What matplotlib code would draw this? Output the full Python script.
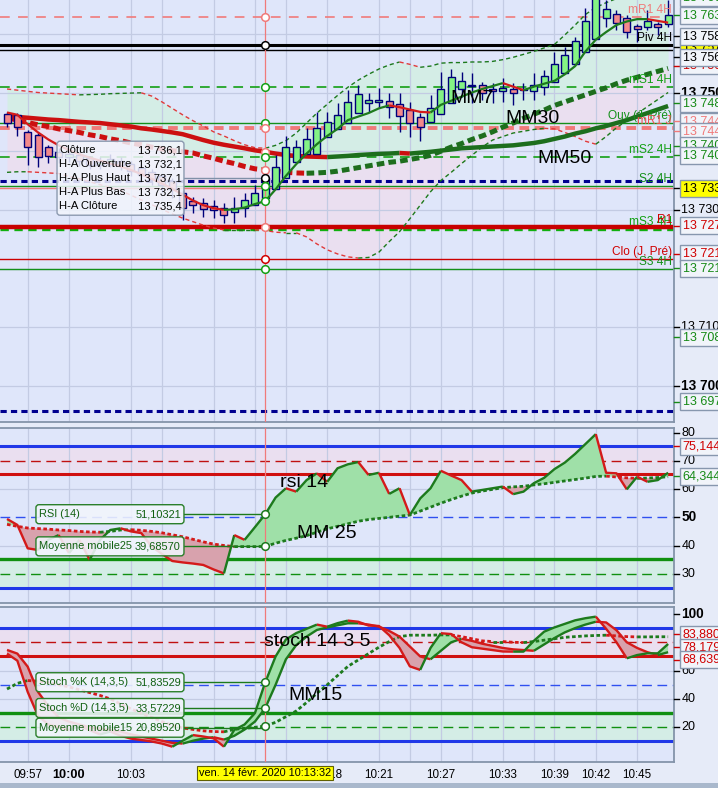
import numpy as np
import matplotlib.pyplot as plt
from matplotlib.patches import FancyBboxPatch, Rectangle

plt.rcParams['font.family'] = ['Liberation Sans', 'DejaVu Sans']
plt.rcParams['lines.scale_dashes'] = False

#%% données (une valeur par bougie)

ha_open = [13746.34, 13746.17, 13743.27, 13742.76, 13740.72, 13739.80, 13739.00, 13739.30, 13738.80, 13737.60,
           13737.90, 13738.30, 13737.90, 13737.20, 13736.50, 13735.80, 13735.00, 13732.88, 13731.52, 13731.18,
           13730.66, 13730.32, 13729.64, 13730.32, 13730.83, 13732.10, 13733.56, 13735.43, 13738.16, 13739.52,
           13739.52, 13742.42, 13743.78, 13744.80, 13746.51, 13748.21, 13748.38, 13748.55, 13748.04, 13747.02,
           13745.83, 13744.97, 13746.34, 13748.21, 13750.60, 13751.11, 13751.28, 13750.60, 13750.26, 13750.60,
           13750.43, 13750.26, 13750.94, 13751.79, 13753.32, 13754.86, 13756.90, 13759.11, 13762.69, 13763.37,
           13762.69, 13761.33, 13761.16, 13761.67, 13761.67]
ha_close = [13744.80, 13744.12, 13740.72, 13739.01, 13739.18, 13739.00, 13739.60, 13738.40, 13737.60, 13738.20,
            13738.70, 13737.60, 13736.60, 13735.90, 13735.20, 13734.30, 13733.50, 13730.32, 13730.83, 13730.15,
            13729.98, 13729.13, 13730.32, 13731.69, 13732.88, 13735.40, 13737.31, 13740.72, 13740.72, 13742.08,
            13743.95, 13744.97, 13746.17, 13748.38, 13749.74, 13748.72, 13748.72, 13747.53, 13746.00, 13744.80,
            13744.12, 13747.36, 13750.60, 13752.64, 13751.97, 13751.28, 13749.91, 13750.26, 13750.77, 13749.91,
            13750.60, 13751.28, 13752.81, 13754.86, 13756.39, 13758.77, 13762.18, 13766.20, 13764.23, 13761.84,
            13760.31, 13760.82, 13762.18, 13761.16, 13763.20]
ha_high = [13746.68, 13746.51, 13743.60, 13743.10, 13741.06, 13740.50, 13740.30, 13739.80, 13739.20, 13739.00,
           13739.50, 13739.00, 13738.40, 13737.80, 13737.00, 13736.20, 13735.40, 13733.39, 13732.20, 13732.03,
           13731.69, 13731.18, 13732.20, 13732.88, 13734.24, 13737.10, 13739.35, 13742.59, 13741.91, 13743.95,
           13746.68, 13746.68, 13748.21, 13750.43, 13751.28, 13749.91, 13750.77, 13749.91, 13749.91, 13748.38,
           13746.51, 13749.57, 13753.49, 13754.00, 13753.49, 13753.32, 13751.79, 13751.62, 13752.47, 13751.62,
           13751.62, 13753.32, 13753.83, 13756.90, 13757.75, 13759.46, 13764.40, 13767.50, 13765.80, 13764.06,
           13763.20, 13761.67, 13764.06, 13762.00, 13765.76]
ha_low = [13744.12, 13742.59, 13737.65, 13737.31, 13737.99, 13738.00, 13738.20, 13737.50, 13736.90, 13737.00,
          13737.30, 13736.80, 13735.80, 13735.00, 13734.30, 13733.00, 13732.00, 13728.28, 13729.47, 13728.79,
          13728.62, 13727.77, 13727.77, 13728.79, 13730.83, 13732.10, 13733.56, 13735.43, 13738.16, 13739.52,
          13739.52, 13742.42, 13743.78, 13744.80, 13746.51, 13746.68, 13747.36, 13745.66, 13743.27, 13742.42,
          13741.74, 13744.97, 13746.34, 13748.21, 13749.23, 13748.21, 13748.72, 13748.21, 13748.38, 13747.87,
          13748.72, 13748.72, 13749.57, 13751.79, 13753.32, 13754.86, 13756.90, 13759.11, 13761.16, 13760.65,
          13759.28, 13758.60, 13760.65, 13759.80, 13761.16]

mm7 = [13746.6, 13746.2, 13744.6, 13743.2, 13742.0, 13741.0, 13740.2, 13739.5, 13738.9, 13738.4,
       13737.9, 13737.4, 13736.8, 13736.1, 13735.3, 13734.5, 13733.6, 13732.6, 13731.6, 13730.8,
       13730.3, 13730.0, 13730.1, 13730.4, 13731.0, 13731.5, 13733.5, 13735.8, 13737.8, 13739.6,
       13741.2, 13742.6, 13743.8, 13745.3, 13745.9, 13746.5, 13747.3, 13747.8, 13747.5, 13747.1,
       13746.7, 13746.6, 13747.9, 13748.6, 13749.3, 13750.0, 13750.6, 13751.1, 13751.6, 13751.0,
       13750.4, 13751.0, 13751.5, 13752.0, 13753.1, 13754.5, 13757.0, 13759.0, 13760.3, 13761.5,
       13762.1, 13762.5, 13762.5, 13762.2, 13761.9]
mm30 = [13745.7, 13745.3, 13744.9, 13744.5, 13744.2, 13743.8, 13743.5, 13743.2, 13742.8, 13742.5,
        13742.1, 13741.8, 13741.4, 13741.1, 13740.7, 13740.4, 13740.1, 13739.9, 13739.7, 13739.2,
        13738.8, 13738.3, 13737.9, 13737.4, 13737.0, 13736.8, 13736.6, 13736.4, 13736.3, 13736.25,
        13736.3, 13736.4, 13736.6, 13736.9, 13737.2, 13737.5, 13737.8, 13738.1, 13738.3, 13738.6,
        13738.9, 13739.3, 13740.0, 13740.7, 13741.3, 13742.0, 13742.6, 13743.3, 13744.1, 13744.8,
        13745.6, 13746.3, 13747.0, 13747.8, 13748.4, 13749.0, 13749.6, 13750.2, 13750.8, 13751.5,
        13752.1, 13752.6, 13753.1, 13753.6, 13754.1]
mm50 = [13746.0, 13745.85, 13745.7, 13745.55, 13745.4, 13745.3, 13745.15, 13745.0, 13744.9, 13744.8,
        13744.6, 13744.4, 13744.2, 13743.9, 13743.7, 13743.45, 13743.2, 13742.9, 13742.4, 13741.9,
        13741.45, 13741.1, 13740.8, 13740.5, 13740.15, 13739.9, 13739.6, 13739.35, 13739.2, 13739.1,
        13739.05, 13739.0, 13739.1, 13739.2, 13739.35, 13739.45, 13739.55, 13739.6, 13739.7, 13739.6,
        13739.75, 13739.9, 13740.1, 13740.3, 13740.5, 13740.6, 13740.7, 13740.8, 13740.9, 13741.0,
        13741.2, 13741.4, 13741.7, 13742.1, 13742.5, 13743.0, 13743.4, 13743.9, 13744.3, 13744.8,
        13745.3, 13745.9, 13746.5, 13747.1, 13747.7]
bb_haut = [13750.6, 13750.4, 13750.2, 13750.0, 13749.9, 13749.8, 13749.7, 13749.6, 13749.65, 13749.7,
           13749.8, 13749.85, 13749.9, 13749.95, 13749.4, 13748.4, 13747.3, 13746.2, 13745.2, 13744.3,
           13743.3, 13742.6, 13741.8, 13741.1, 13740.6, 13740.5, 13741.0, 13741.8, 13743.1, 13744.8,
           13746.5, 13748.0, 13749.5, 13750.9, 13752.1, 13753.1, 13754.0, 13754.7, 13755.2, 13754.8,
           13754.3, 13754.5, 13755.0, 13755.1, 13755.1, 13755.2, 13755.2, 13755.3, 13755.6, 13756.0,
           13756.5, 13757.0, 13757.6, 13758.2, 13759.8, 13761.5, 13763.3, 13764.5, 13765.3, 13766.0,
           13766.6, 13767.0, 13767.4, 13767.8, 13768.2]
bb_bas = [13736.4, 13736.5, 13736.5, 13736.4, 13736.3, 13736.2, 13735.7, 13735.3, 13734.8, 13734.3,
          13733.8, 13733.3, 13732.5, 13731.7, 13730.9, 13730.1, 13729.3, 13728.6, 13728.0, 13727.4,
          13726.9, 13726.6, 13726.6, 13726.6, 13726.6, 13726.5, 13726.2, 13726.1, 13726.1, 13725.4,
          13724.2, 13723.2, 13722.5, 13722.0, 13721.8, 13721.9, 13722.8, 13724.6, 13726.3, 13728.5,
          13730.8, 13733.1, 13735.0, 13736.4, 13737.9, 13739.3, 13740.7, 13741.9, 13742.5, 13743.1,
          13743.4, 13743.7, 13743.9, 13743.8, 13743.2, 13742.5, 13741.7, 13741.2, 13742.5, 13744.0,
          13745.2, 13746.4, 13747.6, 13748.8, 13750.0]

rsi14 = [49.4, 47.3, 39.0, 38.4, 42.0, 43.7, 37.3, 42.0, 34.9, 42.0,
         45.5, 46.1, 45.0, 44.4, 39.6, 37.0, 34.5, 34.0, 33.6, 33.1,
         31.5, 30.1, 43.7, 42.0, 46.5, 51.1, 57.0, 60.3, 59.1, 63.2,
         65.6, 62.6, 67.4, 68.8, 69.6, 65.0, 65.8, 58.3, 60.3, 50.8,
         56.7, 60.3, 66.5, 64.8, 63.2, 59.1, 59.7, 60.3, 60.9, 58.2,
         59.1, 62.1, 64.0, 67.1, 69.4, 72.5, 76.0, 79.5, 65.8, 65.6,
         59.9, 64.4, 62.6, 63.2, 65.8]
rsi_mm25 = [47.5, 46.8, 46.2, 46.0, 45.8, 45.5, 45.3, 45.0, 44.8, 44.7,
            45.0, 45.5, 45.6, 45.4, 45.0, 44.5, 43.8, 43.1, 42.2, 41.3,
            40.5, 40.0, 39.6, 39.6, 39.6, 39.7, 40.8, 41.8, 42.6, 43.5,
            44.7, 45.9, 46.8, 47.7, 48.6, 49.2, 49.6, 50.0, 50.4, 50.8,
            52.2, 53.6, 55.0, 56.3, 57.5, 58.6, 59.3, 59.9, 60.5, 60.8,
            61.0, 61.5, 61.9, 62.4, 62.9, 63.4, 63.9, 64.5, 64.6, 64.3,
            64.0, 63.8, 63.9, 64.1, 64.4]

stoch_k = [72.0, 67.0, 45.0, 28.0, 22.0, 20.0, 18.0, 21.0, 18.0, 15.0,
           17.0, 14.0, 12.0, 11.0, 10.0, 8.5, 6.3, 10.5, 14.5, 13.5,
           12.2, 6.3, 18.1, 22.0, 30.0, 51.8, 70.0, 82.0, 86.5, 89.5,
           92.5, 91.0, 93.5, 95.3, 94.5, 91.8, 91.5, 85.0, 76.0, 63.0,
           60.5, 76.0, 86.4, 85.8, 80.0, 76.5, 75.5, 74.5, 73.5, 73.4,
           73.4, 81.0, 87.5, 90.5, 93.0, 95.5, 97.0, 98.1, 89.5, 80.0,
           68.7, 71.0, 72.2, 72.2, 78.8]
stoch_d = [74.6, 72.0, 62.8, 45.0, 35.0, 27.0, 24.0, 22.0, 20.0, 19.0,
           18.0, 17.0, 15.0, 13.5, 12.0, 10.5, 9.0, 8.5, 10.5, 12.0,
           13.0, 11.3, 14.0, 18.4, 24.0, 33.6, 50.0, 68.0, 78.0, 84.0,
           88.7, 90.5, 92.0, 93.4, 93.4, 92.5, 91.1, 88.0, 84.0, 77.0,
           70.0, 68.0, 74.0, 80.0, 82.5, 81.0, 79.0, 77.5, 76.0, 75.0,
           74.5, 74.0, 78.5, 83.0, 87.0, 90.0, 92.5, 94.5, 94.0, 88.5,
           80.0, 76.0, 73.0, 71.0, 73.0]
stoch_mm15 = [47.0, 51.0, 53.0, 52.5, 51.5, 50.0, 48.5, 46.5, 44.5, 42.5,
              40.0, 36.5, 33.0, 30.0, 27.0, 24.0, 21.5, 19.5, 18.5, 17.5,
              17.0, 16.8, 18.5, 19.3, 20.0, 20.9, 23.5, 27.5, 31.5, 37.5,
              44.0, 50.0, 56.5, 63.0, 67.5, 72.0, 76.5, 80.5, 84.0, 85.0,
              85.0, 85.0, 85.2, 85.2, 84.0, 82.5, 81.0, 80.5, 80.5, 80.0,
              79.8, 80.5, 81.5, 82.5, 83.5, 84.0, 84.5, 84.8, 85.0, 84.5,
              84.0, 83.8, 83.8, 83.9, 83.9]

heures = ['09:57', '10:00', '10:03', '10:18', '10:21', '10:27', '10:33', '10:39', '10:42', '10:45']
heures_idx = [2, 6, 12, 31, 36, 42, 48, 53, 57, 61]
grille_idx = [2, 6, 12, 15, 20, 24, 27, 31, 36, 39, 42, 45, 48, 51, 53, 57, 61]
curseur = 25
date_curseur = 'ven. 14 févr. 2020 10:13:32'

# niveaux (pivots) du graphique des prix
niv_prix = [13762.9, 13758.1, 13757.2, 13750.9, 13744.8, 13743.95, 13739.0, 13734.9,
            13734.1, 13733.7, 13726.75, 13727.1, 13721.6, 13719.9, 13695.7]
niv_nom = ['mR1 4H', 'Piv 4H', '', 'mS1 4H', 'Ouv (J, Pré)', 'mR1 J', 'mS2 4H', '',
           'S2 4H', '', 'mS3 4H', 'R1', 'Clo (J, Pré)', 'S3 4H', '']

# étiquettes de l'échelle de droite
prix_lbl = ['13 766,5', '13 763,4', '13 750,9', '13 757,2', '13 758,4', '13 756,3', '13 748,2', '13 744,8',
            '13 744,0', '13 740,9', '13 740,2', '13 733,9', '13 727,1', '13 721,6', '13 721,1', '13 708,3', '13 697,2']
prix_lbl_y = [13766.2, 13763.2, 13754.6, 13757.7, 13759.6, 13756.0, 13748.2, 13745.1,
              13743.4, 13740.9, 13739.35, 13733.7, 13727.3, 13722.5, 13720.1, 13708.3, 13697.3]
axe_prix = [13750, 13730, 13710, 13700]
axe_prix_txt = ['13 750', '13 730', '13 710', '13 700']

tt_lbl = ['Clôture', 'H-A Ouverture', 'H-A Plus Haut', 'H-A Plus Bas', 'H-A Clôture']
tt_val = ['13 736,1', '13 732,1', '13 737,1', '13 732,1', '13 735,4']

#%% styles
W, H = 718, 788
BG = '#dfe6fa'
GRID = '#c3cbe3'
TEAL = '#d4ede6'
PINK = '#eadff0'
UP, DN = '#1c7a1c', '#d41a1a'
NAVY = '#00007a'
SALMON = '#f07a7a'
GR = '#14a014'

niv_style = [(SALMON, 1.2, (7, 6)), ('black', 2.2, None), ('black', 1.0, None), (GR, 1.2, (7, 5)),
             ('#14901a', 1.0, None), (SALMON, 2.8, (7, 4)), (GR, 1.2, (7, 5)), ('#000090', 2.2, (4.5, 3)),
             ('#14901a', 1.0, None), (SALMON, 1.0, None), ('#10b010', 2.4, (6, 4)), ('#c80000', 3.2, None),
             ('#cc0000', 1.0, None), ('#14901a', 1.0, None), ('#000090', 2.2, (4.5, 3))]
niv_txtc = [SALMON, 'black', None, GR, '#14901a', '#f05050', GR, None,
            '#14901a', None, '#10a010', '#d00000', '#d00000', '#14901a', None]
prix_lbl_c = ['#168a16', '#168a16', '#d00000', 'black', 'black', 'black', '#168a16', SALMON,
              SALMON, '#168a16', '#168a16', 'black', '#d00000', '#d00000', '#168a16', '#168a16', '#168a16']
prix_lbl_fc = ['#f1f4fa'] * 3 + ['#ffff00'] + ['#f1f4fa'] * 7 + ['#ffff00'] + ['#f1f4fa'] * 5

idx = np.arange(len(ha_open))


def trend(ax, x, y, up=UP, dn=DN, **kw):
    # ligne verte quand elle monte, rouge quand elle descend
    x = np.asarray(x, float)
    y = np.asarray(y, float)
    r = np.diff(y) >= 0
    s = 0
    for k in range(1, len(r) + 1):
        if k == len(r) or r[k] != r[s]:
            ax.plot(x[s:k + 1], y[s:k + 1], color=up if r[s] else dn, solid_capstyle='butt', **kw)
            s = k


def dpx(ax):
    x0, x1 = ax.get_xlim()
    y0, y1 = ax.get_ylim()
    pos = ax.get_position()
    return (x1 - x0) / (pos.width * W), (y1 - y0) / (pos.height * H)


def boite(ax, x0, x1, yc, hpx, ec, fc=(0.95, 0.96, 0.99, 0.88), z=9):
    dx, dy = dpx(ax)
    h = hpx * dy
    p = FancyBboxPatch((x0, yc - h / 2), x1 - x0, h,
                       boxstyle='round,pad=0,rounding_size=%f' % (3 * dx),
                       mutation_aspect=dy / dx, fc=fc, ec=ec, lw=1, zorder=z)
    ax.add_patch(p)


def tip(ax, yc, lbl, val, x0=2.8, x1=17.13):
    dx, dy = dpx(ax)
    ax.plot([x1, curseur], [yc, yc], color='#1c7a1c', lw=1, zorder=8)
    boite(ax, x0, x1, yc, 19, '#2a7f2a')
    ax.text(x0 + 3 * dx, yc, lbl, fontsize=7.9, color='#106010', va='center', zorder=10)
    ax.text(x1 - 3 * dx, yc, val, fontsize=7.9, color='#106010', va='center', ha='right', zorder=10)


def etiquette(ax, v, txt, color, fc='#f1f4fa', z=10, bold=False, box=True):
    tr = ax.get_yaxis_transform()
    ax.plot([1.0, 1.007], [v, v], transform=tr, color=color, lw=1, clip_on=False, zorder=z)
    kw = dict(boxstyle='square,pad=0.2', fc=fc, ec='#8797ae', lw=1) if box else None
    ax.text(1.013 if box else 1.011, v, txt, transform=tr, ha='left', va='center',
            fontsize=9.8 if bold else 9, fontweight='bold' if bold else 'normal',
            color=color, clip_on=False, zorder=z, bbox=kw)


def marque(ax, y, color):
    ax.plot(curseur, y, 'o', ms=5.5, mfc='white', mec=color, mew=1.1, zorder=12)


fig = plt.figure(figsize=(W / 100, H / 100), dpi=100, facecolor='#e6ebf8')


def panneau(top, bottom):
    a = fig.add_axes([0, 1 - bottom / H, 674 / W, (bottom - top) / H])
    a.set_facecolor(BG)
    a.set_xlim(-0.68, 64.57)
    a.set_yticks([])
    a.tick_params(axis='x', length=0)
    a.spines['left'].set_visible(False)
    for s in ['top', 'bottom', 'right']:
        a.spines[s].set_color('#8494aa')
        a.spines[s].set_linewidth(1.3)
    for g in grille_idx:
        a.axvline(g, color=GRID, lw=0.9, zorder=0.8)
    return a


ax = panneau(0, 422)
ar = panneau(428, 603)
ast = panneau(607, 762)
ax.set_ylim(13693.87, 13765.76)
ar.set_ylim(19.61, 81.67)
ast.set_ylim(-4.5, 104.9)
ax.spines['top'].set_visible(False)
ax.set_xticks([])
ar.set_xticks([])

#%% graphique des prix
for v in range(13700, 13770, 10):
    ax.axhline(v, color=GRID, lw=0.9, zorder=0.8)
ax.fill_between(idx, bb_haut, mm30, color=TEAL, lw=0, zorder=0.5)
ax.fill_between(idx, mm30, bb_bas, color=PINK, lw=0, zorder=0.5)

for p, nom, (c, lw, ds), tc in zip(niv_prix, niv_nom, niv_style, niv_txtc):
    if ds:
        ax.axhline(p, color=c, lw=lw, dashes=ds, zorder=2)
    else:
        ax.axhline(p, color=c, lw=lw, zorder=2)
    if nom:
        ax.text(0.997, p + 0.15, nom, transform=ax.get_yaxis_transform(), ha='right', va='bottom',
                fontsize=8.6, color=tc, zorder=7)

trend(ax, idx, bb_haut, UP, '#e03a3a', lw=1, dashes=(3, 2.2), zorder=3)
trend(ax, idx, bb_bas, UP, '#e03a3a', lw=1, dashes=(3, 2.2), zorder=3)
trend(ax, idx, mm50, '#1d6e1d', '#cc1010', lw=3.2, zorder=3.5)
trend(ax, idx, mm30, '#1d6e1d', '#cc1010', lw=3.6, dashes=(5.5, 3), zorder=3.5)

o, c = np.array(ha_open), np.array(ha_close)
hausse = c >= o
ax.vlines(idx, ha_low, ha_high, color=NAVY, lw=1, zorder=4)
ax.bar(idx, np.maximum(np.abs(c - o), 0.15), bottom=np.minimum(o, c), width=0.68,
       color=np.where(hausse, '#84f384', '#f3898b'), edgecolor=NAVY, lw=1, zorder=4.2)
trend(ax, idx, mm7, '#1d7a1d', '#d41a1a', lw=1.6, zorder=5)

ax.text(45.0, 13749.0, 'MM7', fontsize=14, ha='center', va='center', zorder=8)
ax.text(50.9, 13745.6, 'MM30', fontsize=14, ha='center', va='center', zorder=8)
ax.text(54.0, 13738.8, 'MM50', fontsize=14, ha='center', va='center', zorder=8)

# réticule
for a in (ax, ar, ast):
    a.axvline(curseur, color=SALMON, lw=0.9, zorder=6)
for v, col in [(niv_prix[0], SALMON), (niv_prix[1], 'black'), (niv_prix[3], GR), (niv_prix[4], GR),
               (niv_prix[5], SALMON), (mm50[curseur], SALMON), (niv_prix[6], GR), (mm30[curseur], SALMON),
               (ha_close[curseur], 'black'), (niv_prix[8], GR), (mm7[curseur], GR), (niv_prix[11], SALMON),
               (niv_prix[12], '#d00000'), (niv_prix[13], GR)]:
    marque(ax, v, col)

# infobulle bougie
dx, dy = dpx(ax)
yc = ha_close[curseur]
ax.plot([17.13, curseur], [yc, yc], color='#8090a8', lw=1, zorder=8)
boite(ax, 4.84, 17.13, yc, 74, '#8c9ab0', fc=(0.95, 0.96, 0.99, 0.85))
for k, (l, v) in enumerate(zip(tt_lbl, tt_val)):
    yy = yc - (k - 2) * 14 * dy
    ax.text(4.84 + 2 * dx, yy, l, fontsize=8.1, va='center', zorder=10)
    ax.text(17.13 - 2 * dx, yy, v, fontsize=8.1, va='center', ha='right', zorder=10)

# échelle de droite
for v, t in zip(axe_prix, axe_prix_txt):
    etiquette(ax, v, t, 'black', bold=t in ('13 750', '13 700'), box=False)
for k, (t, v, col, fc) in enumerate(zip(prix_lbl, prix_lbl_y, prix_lbl_c, prix_lbl_fc)):
    etiquette(ax, v, t, col, fc=fc, z=10 + k * 0.01)

#%% RSI
ar.axhspan(65.3, 75.144, color=PINK, lw=0, zorder=0.5)
ar.axhspan(24.856, 35.2, color=TEAL, lw=0, zorder=0.5)
for v in (40, 60):
    ar.axhline(v, color=GRID, lw=0.9, zorder=0.8)
ar.axhline(75.144, color='#2038e8', lw=2.2, zorder=2)
ar.axhline(70, color='#c01010', lw=1, dashes=(7, 4), zorder=2)
ar.axhline(65.3, color='#d01010', lw=2.2, zorder=2)
ar.axhline(50, color='#3050f0', lw=1, dashes=(7, 4), zorder=2)
ar.axhline(35.2, color='#109010', lw=2.4, zorder=2)
ar.axhline(30, color='#109010', lw=1, dashes=(7, 4), zorder=2)
ar.axhline(24.856, color='#2038e8', lw=2.2, zorder=2)

r, m = np.array(rsi14), np.array(rsi_mm25)
ar.fill_between(idx, r, m, where=r >= m, interpolate=True, color='#9fe0a8', lw=0, zorder=3)
ar.fill_between(idx, r, m, where=r < m, interpolate=True, color='#d8a2ad', lw=0, zorder=3)
trend(ar, idx, rsi_mm25, '#1d7a1d', '#d41a1a', lw=2, dashes=(2.6, 1.8), zorder=4)
trend(ar, idx, rsi14, '#1d7a1d', '#d41a1a', lw=1.7, zorder=5)
ar.text(28.8, 62.2, 'rsi 14', fontsize=14, ha='center', va='center', zorder=8)
ar.text(31.0, 44.4, 'MM 25', fontsize=14, ha='center', va='center', zorder=8)
tip(ar, rsi14[curseur], 'RSI (14)', '51,10321')
tip(ar, rsi_mm25[curseur], 'Moyenne mobile25', '39,68570')
marque(ar, rsi14[curseur], '#1d7a1d')
marque(ar, rsi_mm25[curseur], '#1d7a1d')
for v in (80, 70, 60, 50, 40, 30):
    etiquette(ar, v, str(v), 'black', bold=v == 50, box=False)
etiquette(ar, 75.144, '75,144', '#d00000')
etiquette(ar, 64.6, '64,344', '#168a16')

#%% Stochastique
ast.axhspan(70, 90, color=PINK, lw=0, zorder=0.5)
ast.axhspan(10, 30, color=TEAL, lw=0, zorder=0.5)
for v in (40, 60):
    ast.axhline(v, color=GRID, lw=0.9, zorder=0.8)
ast.axhline(90, color='#2038e8', lw=2.2, zorder=2)
ast.axhline(80, color='#c01010', lw=1, dashes=(7, 4), zorder=2)
ast.axhline(70, color='#d01010', lw=2.2, zorder=2)
ast.axhline(50, color='#3050f0', lw=1, dashes=(7, 4), zorder=2)
ast.axhline(30, color='#109010', lw=2.4, zorder=2)
ast.axhline(20, color='#109010', lw=1, dashes=(7, 4), zorder=2)
ast.axhline(10, color='#2038e8', lw=2.2, zorder=2)

k_, d_ = np.array(stoch_k), np.array(stoch_d)
ast.fill_between(idx, k_, d_, where=k_ >= d_, interpolate=True, color='#9fe0a8', lw=0, zorder=3)
ast.fill_between(idx, k_, d_, where=k_ < d_, interpolate=True, color='#d8a2ad', lw=0, zorder=3)
trend(ast, idx, stoch_mm15, '#1d7a1d', '#d41a1a', lw=2, dashes=(2.6, 1.8), zorder=4)
trend(ast, idx, stoch_d, '#1d7a1d', '#d41a1a', lw=1.7, zorder=5)
trend(ast, idx, stoch_k, '#1d7a1d', '#d41a1a', lw=1.7, zorder=5)
ast.text(30.0, 80.9, 'stoch 14 3 5', fontsize=14, ha='center', va='center', zorder=8)
ast.text(29.9, 42.1, 'MM15', fontsize=14, ha='center', va='center', zorder=8)
tip(ast, stoch_k[curseur], 'Stoch %K (14,3,5)', '51,83529')
tip(ast, stoch_d[curseur], 'Stoch %D (14,3,5)', '33,57229')
tip(ast, stoch_mm15[curseur] - 1.2, 'Moyenne mobile15', '20,89520')
for v in (stoch_k[curseur], stoch_d[curseur], stoch_mm15[curseur]):
    marque(ast, v, '#1d7a1d')
for v in (100, 60, 40, 20):
    etiquette(ast, v, str(v), 'black', bold=v == 100, box=False)
etiquette(ast, 85.6, '83,880', '#d00000')
etiquette(ast, 76.6, '78,179', '#d00000')
etiquette(ast, 67.8, '68,639', '#d00000')

# axe du temps
ast.set_xticks(heures_idx)
ast.set_xticklabels(heures, fontsize=8.4)
ast.tick_params(axis='x', length=0, pad=5)
for t in ast.get_xticklabels():
    if t.get_text() == '10:00':
        t.set_fontweight('bold')
        t.set_fontsize(9.2)
ast.text(curseur, -0.072, date_curseur, transform=ast.get_xaxis_transform(), ha='center', va='center',
         fontsize=7.8, zorder=20, clip_on=False,
         bbox=dict(boxstyle='square,pad=0.18', fc='#ffff00', ec='#606000', lw=0.8))

fig.patches.append(Rectangle((0, 0), 1, 5 / H, transform=fig.transFigure, fc='#a9b8cc', ec='none'))

fig.savefig('out.png', dpi=100, facecolor=fig.get_facecolor())
